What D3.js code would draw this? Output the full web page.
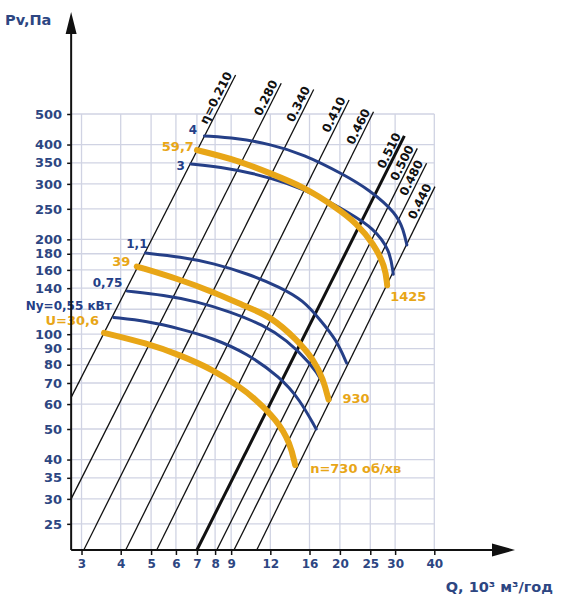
<!DOCTYPE html>
<html>
<head>
<meta charset="utf-8">
<script src="https://cdn.jsdelivr.net/npm/d3@7"></script>
<style>
    body { margin: 0; background: #fff; }
    svg text { font-family: "DejaVu Sans", sans-serif; font-weight: bold; }
</style>
</head>
<body>
<svg id="chart" width="564" height="608"></svg>
<script>
    // axis ticks
    var xTicks = [3, 4, 5, 6, 7, 8, 9, 12, 16, 20, 25, 30, 40];
    var yTicks = [25, 30, 35, 40, 50, 60, 70, 80, 90, 100, 140, 160, 180, 200, 250, 300, 350, 400, 500];
    var yGrid = [25, 30, 35, 40, 50, 60, 70, 80, 90, 100, 120, 140, 160, 180, 200, 250, 300, 350, 400, 500];
    var qMin = 2.78, pvMin = 20.65;

    // efficiency rays (start / end points)
    var rayLabels = ["η=0.210", "0.280", "0.340", "0.410", "0.460", "0.510", "0.500", "0.480", "0.440"];
    var rayStartQ = [2.78, 2.78, 3.05, 4.15, 5.21, 7.0, 8.1, 9.19, 10.86];
    var rayStartPv = [63, 30, 20.65, 20.65, 20.65, 20.65, 20.65, 20.65, 20.65];
    var rayEndQ = [9.3, 13, 16.5, 21.4, 25.6, 32.1, 35.3, 37.8, 40.2];
    var rayEndPv = [665, 626, 598, 554, 508, 426, 389, 349, 294];
    var bestRay = "0.510";

    // power curves, Ny kW  [Q, Pv]
    var kwLabels = ["4", "3", "1,1", "0,75", "Ny=0,55 кВт"];
    var kw4 = [[7.4, 426], [9.4, 419], [12, 401], [15.3, 373], [20.5, 322], [24.9, 287], [30.3, 242], [31.9, 214], [32.7, 192]];
    var kw3 = [[6.7, 347], [8.3, 340], [10.6, 324], [13.5, 303], [17.3, 273], [21.5, 242], [25.6, 217], [28.9, 185], [29.6, 155]];
    var kw11 = [[4.8, 181], [6.2, 176], [7.9, 168], [10.1, 156], [12.9, 141], [15.3, 128], [17.3, 111], [19.5, 96], [21, 81]];
    var kw075 = [[4.2, 137], [5.5, 133], [7, 127], [8.9, 118], [11.4, 107], [13.5, 96], [16.1, 81], [17.8, 70], [18.6, 62]];
    var kw055 = [[3.8, 113], [4.85, 110], [6.2, 104], [7.9, 97], [10.1, 87], [12.9, 73], [14.9, 62], [16.8, 50]];

    // speed curves  [Q, Pv]
    var rpmStartLabels = ["59,7", "39", "U=30,6"];
    var rpmEndLabels = ["1425", "930", "n=730 об/хв"];
    var rpm1425 = [[7.0, 384], [9.4, 357], [12, 324], [15.3, 294], [19.5, 252], [22.6, 225], [25.6, 194], [27.9, 164], [28.3, 143]];
    var rpm930 = [[4.5, 164], [6.2, 149], [7.9, 136], [10.1, 122], [12, 114], [14.6, 96], [16.5, 83], [17.7, 72], [18.4, 62]];
    var rpm730 = [[3.54, 101], [4.84, 93.6], [6.2, 85.8], [7.9, 77], [9.6, 68], [10.6, 63], [12.6, 53.4], [13.9, 45], [14.4, 38.4]];

    var kwCurves = [kw4, kw3, kw11, kw075, kw055];
    var rpmCurves = [rpm1425, rpm930, rpm730];

    // label offsets (px) from the curve ends
    var kwLabelOff = [[-7.5, -6], [-6, 2], [2, -9], [-5, -8], [-2, -11]];
    var rpmStartOff = [[-3, -3.5], [-6.5, -5], [-5, -12]];
    var rpmEndOff = [[3, 11], [14, -1], [15, 3]];

    var blue = "#253f87", orange = "#e8a617", navy = "#2d4682", gridColor = "#d0d3e3";

    var svg = d3.select("#chart");
    var x = d3.scaleLog().domain([4, 40]).range([120.7, 434.3]);
    var y = d3.scaleLog().domain([pvMin, 500]).range([550, 114]);
    var x0 = x(qMin), y0 = y(pvMin);

    // grid
    var grid = svg.append("g");
    grid.selectAll(".vg").data(xTicks).enter().append("line")
        .attr("x1", function (d) { return x(d); }).attr("x2", function (d) { return x(d); })
        .attr("y1", y(500)).attr("y2", y0)
        .attr("stroke", gridColor).attr("stroke-width", 1.3);
    grid.selectAll(".hg").data(yGrid).enter().append("line")
        .attr("x1", x0).attr("x2", x(40))
        .attr("y1", function (d) { return y(d); }).attr("y2", function (d) { return y(d); })
        .attr("stroke", gridColor).attr("stroke-width", 1.3);

    // efficiency rays
    var rays = svg.append("g");
    rayLabels.forEach(function (lab, i) {
        var sx = x(rayStartQ[i]), sy = y(rayStartPv[i]);
        var ex = x(rayEndQ[i]), ey = y(rayEndPv[i]);
        rays.append("line")
            .attr("x1", sx).attr("y1", sy).attr("x2", ex).attr("y2", ey)
            .attr("stroke", "#111")
            .attr("stroke-width", lab === bestRay ? 3 : 1.3);
        var ang = Math.atan2(ey - sy, ex - sx) * 180 / Math.PI;
        rays.append("text")
            .attr("transform", "translate(" + ex + "," + ey + ") rotate(" + ang + ")")
            .attr("x", -1).attr("y", -3)
            .attr("text-anchor", "end")
            .attr("font-size", 12)
            .attr("fill", "#111")
            .text(lab);
    });

    var line = d3.line()
        .x(function (d) { return x(d[0]); })
        .y(function (d) { return y(d[1]); })
        .curve(d3.curveBasis);

    // power curves
    kwCurves.forEach(function (c, i) {
        svg.append("path").datum(c)
            .attr("d", line)
            .attr("fill", "none").attr("stroke", blue)
            .attr("stroke-width", 3).attr("stroke-linecap", "round");
        svg.append("text")
            .attr("x", x(c[0][0]) + kwLabelOff[i][0])
            .attr("y", y(c[0][1]) + kwLabelOff[i][1])
            .attr("dominant-baseline", "central")
            .attr("text-anchor", "end")
            .attr("font-size", 12)
            .attr("fill", blue)
            .text(kwLabels[i]);
    });

    // speed curves
    rpmCurves.forEach(function (c, i) {
        svg.append("path").datum(c)
            .attr("d", line)
            .attr("fill", "none").attr("stroke", orange)
            .attr("stroke-width", 6).attr("stroke-linecap", "round");
        var last = c[c.length - 1];
        svg.append("text")
            .attr("x", x(c[0][0]) + rpmStartOff[i][0])
            .attr("y", y(c[0][1]) + rpmStartOff[i][1])
            .attr("dominant-baseline", "central")
            .attr("text-anchor", "end")
            .attr("font-size", 13)
            .attr("fill", orange)
            .text(rpmStartLabels[i]);
        svg.append("text")
            .attr("x", x(last[0]) + rpmEndOff[i][0])
            .attr("y", y(last[1]) + rpmEndOff[i][1])
            .attr("dominant-baseline", "central")
            .attr("text-anchor", "start")
            .attr("font-size", 13)
            .attr("fill", orange)
            .text(rpmEndLabels[i]);
    });

    // axes
    var yAxis = d3.axisLeft(y).tickValues(yTicks).tickSize(4).tickPadding(5)
        .tickFormat(function (d) { return d; });
    var gy = svg.append("g").attr("transform", "translate(" + x0 + ",0)").call(yAxis);

    var xAxis = d3.axisBottom(x).tickValues(xTicks).tickSize(5).tickPadding(4)
        .tickFormat(function (d) { return d; });
    var gx = svg.append("g").attr("transform", "translate(0," + y0 + ")").call(xAxis);

    [gx, gy].forEach(function (g) {
        g.select(".domain").remove();
        g.selectAll(".tick line").attr("stroke", "#111").attr("stroke-width", 1.5);
        g.selectAll(".tick text").attr("fill", navy)
            .attr("font-family", "DejaVu Sans").attr("font-weight", "bold");
    });
    gy.selectAll(".tick text").attr("font-size", 13);
    gx.selectAll(".tick text").attr("font-size", 12);

    // axis lines with arrows
    svg.append("line").attr("x1", x0).attr("y1", y0).attr("x2", x0).attr("y2", 32)
        .attr("stroke", "#111").attr("stroke-width", 2);
    svg.append("path")
        .attr("d", "M" + x0 + ",12L" + (x0 - 5.5) + ",34L" + (x0 + 5.5) + ",34Z")
        .attr("fill", "#111");
    svg.append("line").attr("x1", x0).attr("y1", y0).attr("x2", 494).attr("y2", y0)
        .attr("stroke", "#111").attr("stroke-width", 2);
    svg.append("path")
        .attr("d", "M515," + y0 + "L492," + (y0 - 6.5) + "L492," + (y0 + 6.5) + "Z")
        .attr("fill", "#111");

    // axis titles
    svg.append("text").attr("x", 5).attr("y", 20)
        .attr("dominant-baseline", "central")
        .attr("font-size", 14.5).attr("fill", navy)
        .text("Pv,Па");
    svg.append("text").attr("x", 553).attr("y", 587)
        .attr("dominant-baseline", "central")
        .attr("text-anchor", "end")
        .attr("font-size", 14.5).attr("fill", navy)
        .text("Q, 10³ м³/год");
</script>
</body>
</html>
